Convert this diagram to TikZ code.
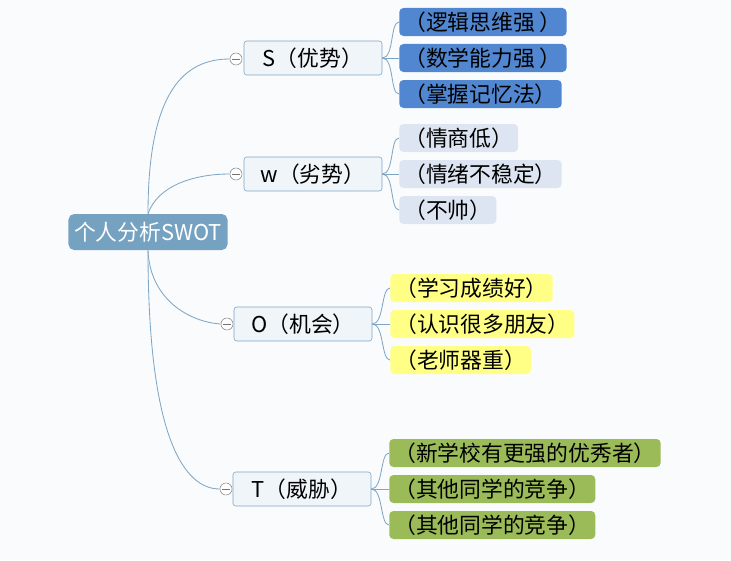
\documentclass[tikz,border=0pt]{standalone}
\usepackage{fontspec}
\setmainfont{Noto Sans CJK SC}
\usetikzlibrary{positioning}
\definecolor{rootblue}{HTML}{76A2C2}
\definecolor{linkblue}{HTML}{7FA6C6}
\definecolor{paleblue}{HTML}{EFF5F9}
\definecolor{sblue}{HTML}{5087D0}
\definecolor{wblue}{HTML}{DCE5F1}
\definecolor{oyellow}{HTML}{FFFF85}
\definecolor{tgreen}{HTML}{9BBB59}
\definecolor{bgpaper}{HTML}{FAFBFC}
\tikzset{
	rootbox/.style={rectangle, rounded corners=4pt, fill=rootblue, text=white,
		minimum width=3.975cm, minimum height=0.9cm, inner sep=0pt},
	mainbox/.style={rectangle, rounded corners=2pt, draw=linkblue, fill=paleblue,
		minimum width=3.45cm, minimum height=0.85cm, inner sep=0pt},
	leafbox/.style={rectangle, rounded corners=3pt, anchor=west,
		minimum height=0.7cm, inner xsep=3.5pt, inner ysep=0pt},
	fold/.style={circle, draw=black!45, fill=white, minimum size=0.3cm, inner sep=0pt,
		path picture={\draw[black!55] ([xshift=-2.5pt]path picture bounding box.center)
			-- ([xshift=2.5pt]path picture bounding box.center);}},
	link/.style={draw=linkblue, line width=0.6pt},
}
\begin{document}
\begin{tikzpicture}[x=0.025cm, y=-0.025cm, font=\fontsize{15.5}{18}\selectfont]
		%%%%% START %%%%%
		\fill[bgpaper] (0, 0) rectangle (731, 560);
		\useasboundingbox (0, 0) rectangle (731, 560);
		
		\node[rootbox] (root) at (148, 232) {个人分析SWOT};
		
		\node[mainbox] (S) at (313, 58) {S（优势）};
		\node[mainbox] (W) at (313, 174) {w（劣势）};
		\node[mainbox] (O) at (303, 324) {O（机会）};
		\node[mainbox] (T) at (302, 489) {T（威胁）};
		
		\node[fold] (sfold) at (236, 59) {};
		\node[fold] (wfold) at (236, 174) {};
		\node[fold] (ofold) at (227, 324) {};
		\node[fold] (tfold) at (226, 489) {};
		
		% root to the four parts
		\draw[link] (root.north) .. controls (148, 90) and (185, 59) .. (sfold.west);
		\draw[link] (root.north) .. controls (158, 185) and (195, 174) .. (wfold.west);
		\draw[link] (root.south) .. controls (150, 300) and (190, 322) .. (ofold.west);
		\draw[link] (root.south) .. controls (148, 440) and (185, 489) .. (tfold.west);
		
		% S
		\node[leafbox, fill=sblue] (s1) at (399, 22) {（逻辑思维强 ）};
		\node[leafbox, fill=sblue] (s2) at (399, 58) {（数学能力强 ）};
		\node[leafbox, fill=sblue] (s3) at (399, 94) {（掌握记忆法）};
		
		% W
		\node[leafbox, fill=wblue] (w1) at (399, 138) {（情商低）};
		\node[leafbox, fill=wblue] (w2) at (399, 174) {（情绪不稳定）};
		\node[leafbox, fill=wblue] (w3) at (399, 210) {（不帅）};
		
		% O
		\node[leafbox, fill=oyellow] (o1) at (390, 288) {（学习成绩好）};
		\node[leafbox, fill=oyellow] (o2) at (390, 324) {（认识很多朋友）};
		\node[leafbox, fill=oyellow] (o3) at (390, 360) {（老师器重）};
		
		% T
		\node[leafbox, fill=tgreen] (t1) at (389, 453) {（新学校有更强的优秀者）};
		\node[leafbox, fill=tgreen] (t2) at (389, 489) {（其他同学的竞争）};
		\node[leafbox, fill=tgreen] (t3) at (389, 525) {（其他同学的竞争）};
		
		\foreach \p/\a/\b/\c in {S/s1/s2/s3, W/w1/w2/w3, O/o1/o2/o3, T/t1/t2/t3} {
			\draw[link] (\p.east) .. controls +(12, 0) and +(-9, 0) .. (\a.west);
			\draw[link] (\p.east) -- (\b.west);
			\draw[link] (\p.east) .. controls +(12, 0) and +(-9, 0) .. (\c.west);
		}
		%%%%% END %%%%%
	\end{tikzpicture}
\end{document}
